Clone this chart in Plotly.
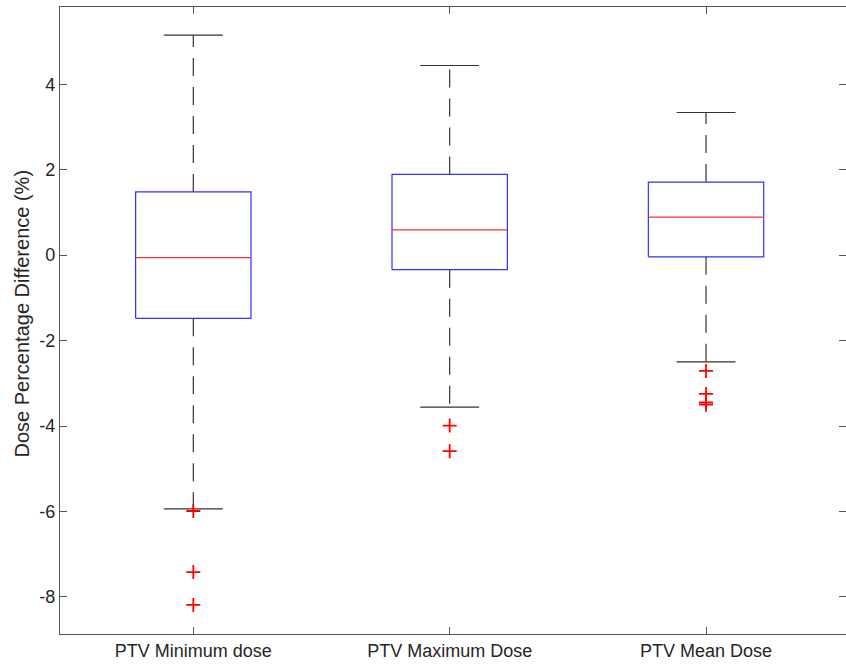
import plotly.graph_objects as go

categories = ["PTV Minimum dose", "PTV Maximum Dose", "PTV Mean Dose"]
q1 = [-1.48, -0.34, -0.04]
median = [-0.06, 0.59, 0.89]
q3 = [1.48, 1.89, 1.71]
lower_whisker = [-5.94, -3.56, -2.50]
upper_whisker = [5.15, 4.44, 3.34]
outliers = [[-5.99, -7.42, -8.19], [-3.99, -4.59], [-2.71, -3.25, -3.45, -3.50]]
y_ticks = [-8, -6, -4, -2, 0, 2, 4]

BOX_HALF = 0.225
CAP_HALF = 0.115
xpos = [i + 1 for i in range(len(categories))]

box_x, box_y = [], []
med_x, med_y = [], []
wh_x, wh_y = [], []
cap_x, cap_y = [], []
out_x, out_y = [], []
for i, x in enumerate(xpos):
    box_x += [x - BOX_HALF, x + BOX_HALF, x + BOX_HALF, x - BOX_HALF, x - BOX_HALF, None]
    box_y += [q1[i], q1[i], q3[i], q3[i], q1[i], None]
    med_x += [x - BOX_HALF, x + BOX_HALF, None]
    med_y += [median[i], median[i], None]
    wh_x += [x, x, None, x, x, None]
    wh_y += [q3[i], upper_whisker[i], None, q1[i], lower_whisker[i], None]
    cap_x += [x - CAP_HALF, x + CAP_HALF, None, x - CAP_HALF, x + CAP_HALF, None]
    cap_y += [upper_whisker[i], upper_whisker[i], None, lower_whisker[i], lower_whisker[i], None]
    for v in outliers[i]:
        out_x.append(x)
        out_y.append(v)

FONT = "Liberation Sans, Arial, sans-serif"

fig = go.Figure()
fig.add_trace(go.Scatter(x=wh_x, y=wh_y, mode="lines",
                         line=dict(color="#333333", width=1.2, dash="18px,11px"),
                         hoverinfo="skip", showlegend=False))
fig.add_trace(go.Scatter(x=cap_x, y=cap_y, mode="lines",
                         line=dict(color="#333333", width=1.2),
                         hoverinfo="skip", showlegend=False))
fig.add_trace(go.Scatter(x=box_x, y=box_y, mode="lines",
                         line=dict(color="#3030ff", width=1.2),
                         hoverinfo="skip", showlegend=False))
fig.add_trace(go.Scatter(x=med_x, y=med_y, mode="lines",
                         line=dict(color="#ff3030", width=1.2),
                         hoverinfo="skip", showlegend=False))
fig.add_trace(go.Scatter(x=out_x, y=out_y, mode="markers",
                         marker=dict(symbol="cross-thin", size=10,
                                     line=dict(color="#ff0000", width=1.8)),
                         showlegend=False))

axis_common = dict(showgrid=False, zeroline=False, showline=True, linecolor="#555555",
                   linewidth=1.2, ticks="inside", ticklen=7, tickcolor="#555555",
                   mirror="ticks", automargin=False,
                   tickfont=dict(family=FONT, size=18, color="#262626"))
fig.update_xaxes(range=[0.48, 3.546], tickvals=xpos, ticktext=categories, **axis_common)
fig.update_yaxes(range=[-8.87, 5.81], tickvals=y_ticks,
                 ticktext=[str(t) for t in y_ticks], **axis_common)
fig.add_annotation(text="Dose Percentage Difference (%)", xref="paper", yref="paper",
                   x=0, y=0.5, xshift=-39, yshift=7, textangle=-90, showarrow=False,
                   xanchor="center", yanchor="middle",
                   font=dict(family=FONT, size=20, color="#262626"))
fig.update_layout(width=846, height=667, margin=dict(l=60, r=0, t=7, b=33),
                  plot_bgcolor="white", paper_bgcolor="white", showlegend=False)
fig.write_html("out.html", config={"displayModeBar": False},
               post_script="document.body.style.margin='0';document.body.style.overflow='hidden';")
